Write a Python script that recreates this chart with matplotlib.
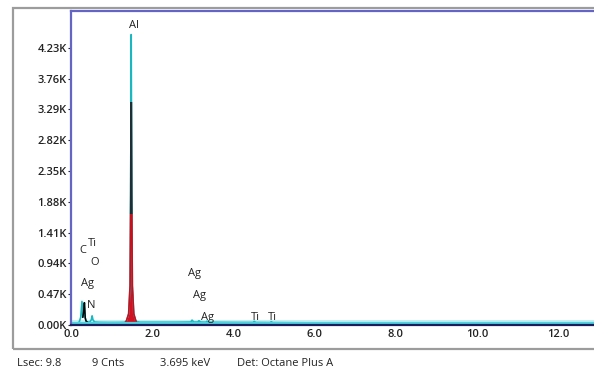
import matplotlib
matplotlib.use("Agg")
import matplotlib.pyplot as plt
from matplotlib.patches import Rectangle

# spectrum (keV, counts)
energy = [0.0, 0.10, 0.20, 0.24, 0.27, 0.29, 0.31, 0.33, 0.35, 0.37, 0.40, 0.46, 0.50,
          0.52, 0.54, 0.58, 0.70, 0.90, 1.10, 1.30, 1.36, 1.42, 1.455, 1.47, 1.482,
          1.495, 1.51, 1.545, 1.60, 1.70, 2.20, 2.60, 2.95, 2.98, 3.02, 3.12,
          3.15, 3.19, 3.32, 3.35, 3.39, 3.70, 4.20, 4.48, 4.51, 4.55, 4.90, 4.93,
          4.97, 6.0, 8.0, 10.0, 12.0, 13.0]
counts = [20, 20, 40, 120, 360, 120, 200, 340, 110, 60, 45, 45, 80,
          140, 80, 45, 40, 38, 38, 40, 55, 170, 600, 2000, 4430,
          2000, 600, 170, 55, 42, 42, 42, 45, 75, 45, 45,
          65, 45, 42, 58, 42, 40, 38, 38, 55, 38, 36, 50,
          36, 32, 28, 25, 22, 20]

y_ticks = [0, 470, 940, 1410, 1880, 2350, 2820, 3290, 3760, 4230]
y_labels = ["0.00K", "0.47K", "0.94K", "1.41K", "1.88K", "2.35K", "2.82K",
            "3.29K", "3.76K", "4.23K"]
x_ticks = [0, 2, 4, 6, 8, 10, 12]
x_labels = ["0.0", "2.0", "4.0", "6.0", "8.0", "10.0", "12.0"]

# element labels: (text, energy, counts)
peak_labels = [("Al", 1.54, 4570), ("C", 0.30, 1130), ("Ti", 0.52, 1250),
               ("O", 0.58, 960), ("Ag", 0.40, 640), ("N", 0.50, 290),
               ("Ag", 3.04, 780), ("Ag", 3.16, 450), ("Ag", 3.37, 120),
               ("Ti", 4.55, 120), ("Ti", 4.95, 120)]
status = ["Lsec: 9.8", "9 Cnts", "3.695 keV", "Det: Octane Plus A"]
status_x = [17, 92, 160, 237]

plt.rcParams['font.family'] = ['Open Sans', 'DejaVu Sans']

fig = plt.figure(figsize=(5.94, 3.76), dpi=100)
W, H = 594, 376
fig.patches.append(Rectangle((13 / W, 1 - 349 / H), 1.0, (349 - 8) / H,
                             transform=fig.transFigure, fill=False,
                             edgecolor="#9c9c9c", lw=1.6))
ax = fig.add_axes([71 / W, 1 - 325 / H, (599 - 71) / W, (325 - 11) / H])
ax.set_xlim(0, 13)
ax.set_ylim(0, 4790)

ax.fill_between(energy, 0, 75, color="#c4f0f4", lw=0)
ax.fill_between(energy, 0, counts, where=[1.25 <= e <= 1.65 for e in energy],
                color="#d41020", lw=0, interpolate=True)
ax.plot(energy, counts, color="#19b8c0", lw=1.2)
# the Al peak outline fades teal -> dark -> red going down
dark, = ax.plot(energy, counts, color="#1a3036", lw=1.2)
dark.set_clip_path(Rectangle((1.2, 1700), 0.6, 1700, transform=ax.transData))
red, = ax.plot(energy, counts, color="#c8101c", lw=1.2)
red.set_clip_path(Rectangle((1.33, 0), 0.3, 1700, transform=ax.transData))
# low energy C/N peaks in black
low = [i for i, e in enumerate(energy) if 0.28 <= e <= 0.40]
ax.plot([energy[i] for i in low], [counts[i] for i in low], color="black", lw=1.1)
ax.plot([0, 13], [35, 35], color="#4fd2e0", lw=1.6)

for txt, e, c in peak_labels:
    ax.text(e, c, txt, ha="center", va="center", fontsize=8, color="#222222")

ax.set_yticks(y_ticks)
ax.set_yticklabels(y_labels)
ax.set_xticks(x_ticks)
ax.set_xticklabels(x_labels)
ax.tick_params(axis="both", labelsize=8, colors="#222222", length=2, width=0.8)
ax.tick_params(axis="x", direction="in", pad=3)
ax.tick_params(axis="y", pad=1)
for lab in ax.get_xticklabels() + ax.get_yticklabels():
    lab.set_fontweight("semibold")

for side in ["left", "top"]:
    ax.spines[side].set_color("#6464c4")
    ax.spines[side].set_linewidth(1.6)
ax.spines["bottom"].set_color("#1c1c5c")
ax.spines["bottom"].set_linewidth(1.6)
ax.spines["right"].set_visible(False)

for txt, x in zip(status, status_x):
    fig.text(x / W, 1 - 364 / H, txt, fontsize=8, color="#222222", va="center")

fig.savefig("out.png", dpi=100)
